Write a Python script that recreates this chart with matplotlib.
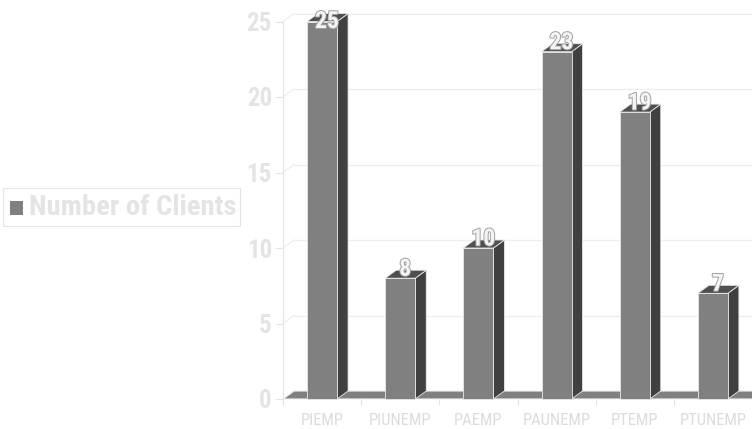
import matplotlib
matplotlib.use("Agg")
import matplotlib.pyplot as plt
from matplotlib.patches import Polygon, Rectangle
import matplotlib.patheffects as pe

categories = ["PIEMP", "PIUNEMP", "PAEMP", "PAUNEMP", "PTEMP", "PTUNEMP"]
values = [25, 8, 10, 23, 19, 7]
yticks = [0, 5, 10, 15, 20, 25]
series_name = "Number of Clients"

plt.rcParams["font.family"] = ["Roboto Condensed", "DejaVu Sans"]

W, H = 752, 429
fig = plt.figure(figsize=(W / 100, H / 100), dpi=100)
ax_left, ax_bottom = 283 / W, 30 / H
ax_w = (W - 283) / W
ymax = 25.5
ppu = 15.1
ax_h = ymax * ppu / H
ax = fig.add_axes([ax_left, ax_bottom, ax_w, ax_h])
n = len(categories)
ax.set_xlim(-0.5, n - 0.5)
ax.set_ylim(0, ymax)

cat_px = (W - 283) / n
dx = 11 / cat_px
dy = 8 / ppu
bw = 30 / cat_px

light = "#e4e4e4"
grid = "#eeeeee"

for s in ["top", "right", "bottom"]:
    ax.spines[s].set_visible(False)
ax.spines["left"].set_bounds(0, 25)
ax.spines["left"].set_color(light)
ax.spines["left"].set_linewidth(0.8)
ax.set_yticks(yticks)
ax.set_yticklabels([str(t) for t in yticks])
ax.tick_params(axis="y", length=6, width=0.8, color=light, labelcolor=light,
               labelsize=18, pad=2)
for lab in ax.get_yticklabels():
    lab.set_fontweight("bold")
ax.set_xticks(range(n))
ax.set_xticklabels(categories)
ax.tick_params(axis="x", length=0, labelcolor="#dcdcdc", labelsize=12, pad=10)
ax.set_xticks([i - 0.5 for i in range(n + 1)], minor=True)
ax.tick_params(axis="x", which="minor", length=4, width=0.8, color=light)
ax.set_facecolor("none")

# back gridlines and diagonals
for t in yticks:
    if t > 0:
        ax.plot([-0.5 + dx, n - 0.5 + dx + 1], [t + dy, t + dy], color=grid,
                lw=0.9, clip_on=False, zorder=0)
    ax.plot([-0.5, -0.5 + dx], [t, t + dy], color=grid, lw=0.9,
            clip_on=False, zorder=0)

# floor
floor = Polygon([(-0.5, 0), (n - 0.5 + 1, 0), (n - 0.5 + 1 + dx, dy), (-0.5 + dx, dy)],
                closed=True, facecolor="#808080", edgecolor="#f2f2f2", lw=0.8,
                clip_on=False, zorder=1)
ax.add_patch(floor)

front_c, side_c, top_c = "#808080", "#404040", "#4f4f4f"
edge = "#e8e8e8"
for i, v in enumerate(values):
    x0 = i - bw / 2
    x1 = i + bw / 2
    side = Polygon([(x1, 0), (x1 + dx, dy), (x1 + dx, v + dy), (x1, v)],
                   closed=True, facecolor=side_c, edgecolor=edge, lw=0.6,
                   clip_on=False, zorder=2)
    top = Polygon([(x0, v), (x1, v), (x1 + dx, v + dy), (x0 + dx, v + dy)],
                  closed=True, facecolor=top_c, edgecolor=edge, lw=0.6,
                  clip_on=False, zorder=2)
    front = Rectangle((x0, 0), bw, v, facecolor=front_c, edgecolor=edge,
                      lw=0.6, clip_on=False, zorder=3)
    ax.add_patch(side)
    ax.add_patch(top)
    ax.add_patch(front)
    ax.text(i + dx * 0.45, min(v + 0.6, 25.0), str(v), ha="center", va="center",
            fontsize=17, fontweight="bold", color="#f4f4f4", zorder=5,
            path_effects=[pe.Stroke(linewidth=1.4, foreground="#a0a0a0"), pe.Normal()])

# legend
lx0, ly0, lx1, ly1 = 3, 188, 240, 226
fig.patches.append(Rectangle((lx0 / W, 1 - ly1 / H), (lx1 - lx0) / W, (ly1 - ly0) / H,
                             transform=fig.transFigure, facecolor="white",
                             edgecolor=light, lw=0.8))
fig.patches.append(Rectangle((10 / W, 1 - 215 / H), 13 / W, 14 / H,
                             transform=fig.transFigure, facecolor="#808080",
                             edgecolor="none"))
fig.text(29 / W, 1 - 207.5 / H, series_name, ha="left", va="center", fontsize=20.5,
         fontweight="bold", color=light)

fig.savefig("out.png", dpi=100)
